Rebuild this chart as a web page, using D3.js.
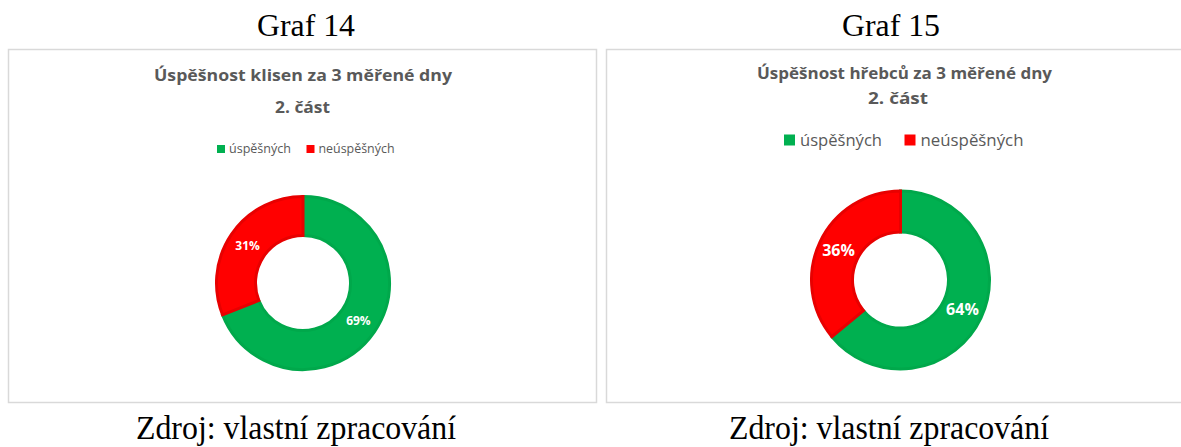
<!DOCTYPE html>
<html>
<head>
<meta charset="utf-8">
<script src="https://cdn.jsdelivr.net/npm/d3@7"></script>
<style>
  html, body { margin: 0; padding: 0; background: #fff; }
  svg { display: block; }
</style>
</head>
<body>
<svg id="chart" width="1181" height="447"></svg>
<script>
// ---- data ----
const graphLabels = ["Graf 14", "Graf 15"];
const chartTitles = ["Úspěšnost klisen za 3 měřené dny", "Úspěšnost hřebců za 3 měřené dny"];
const chartSubtitles = ["2. část", "2. část"];
const categories = ["úspěšných", "neúspěšných"];
const valuesKlisny = [69, 31];
const valuesHrebci = [64, 36];
const sourceNotes = ["Zdroj: vlastní zpracování", "Zdroj: vlastní zpracování"];

// ---- styles / layout ----
const fillColors = ["#00B050", "#FF0000"];
const strokeColors = ["#00A84B", "#E80000"];
const svg = d3.select("#chart");

const panels = [
  { values: valuesKlisny, box: [8, 49, 588, 353], cx: 303, cy: 283, rO: 88, rI: 46,
    graf: { x: 306, y: 36, w: 98 }, titleX: 303, titleY: 81, titleW: 298, titleSize: 15.5,
    subX: 302.5, subY: 113, subW: 55,
    legendY: 149, legendSize: 12, sq: 8, legX: [217, 306.5], legTextW: [62, 76],
    labelSize: 12, note: { x: 296, y: 439, w: 320 } },
  { values: valuesHrebci, box: [606, 49, 590, 353], cx: 900.5, cy: 280, rO: 90.5, rI: 46.5,
    graf: { x: 891, y: 36, w: 98 }, titleX: 904.5, titleY: 79, titleW: 295, titleSize: 15.5,
    subX: 898, subY: 104, subW: 60,
    legendY: 140, legendSize: 16, sq: 11, legX: [784, 904.5], legTextW: [82, 103],
    labelSize: 16, note: { x: 889, y: 439, w: 320 } }
];

const pie = d3.pie().sort(null).value(d => d);

panels.forEach((p, i) => {
  const g = svg.append("g");

  // Graf label
  g.append("text")
    .attr("x", p.graf.x).attr("y", p.graf.y)
    .attr("text-anchor", "middle")
    .attr("font-family", "'Liberation Serif', 'Times New Roman', serif")
    .attr("font-size", 32)
    .attr("textLength", p.graf.w).attr("lengthAdjust", "spacingAndGlyphs")
    .attr("fill", "#000")
    .text(graphLabels[i]);

  // chart box
  g.append("rect")
    .attr("x", p.box[0] + 0.5).attr("y", p.box[1] + 0.5)
    .attr("width", p.box[2]).attr("height", p.box[3])
    .attr("fill", "#fff").attr("stroke", "#d9d9d9").attr("stroke-width", 1.5);

  // title
  g.append("text")
    .attr("x", p.titleX).attr("y", p.titleY)
    .attr("text-anchor", "middle")
    .attr("font-family", "'Open Sans', 'Noto Sans', sans-serif")
    .attr("font-weight", "bold")
    .attr("font-size", p.titleSize)
    .attr("textLength", p.titleW).attr("lengthAdjust", "spacingAndGlyphs")
    .attr("fill", "#595959")
    .text(chartTitles[i]);
  g.append("text")
    .attr("x", p.subX).attr("y", p.subY)
    .attr("text-anchor", "middle")
    .attr("font-family", "'Open Sans', 'Noto Sans', sans-serif")
    .attr("font-weight", "bold")
    .attr("font-size", p.titleSize)
    .attr("textLength", p.subW).attr("lengthAdjust", "spacingAndGlyphs")
    .attr("fill", "#595959")
    .text(chartSubtitles[i]);

  // legend
  categories.forEach((c, k) => {
    g.append("rect")
      .attr("x", p.legX[k]).attr("y", p.legendY - p.sq / 2)
      .attr("width", p.sq).attr("height", p.sq)
      .attr("fill", fillColors[k]);
    g.append("text")
      .attr("x", p.legX[k] + p.sq + (i === 0 ? 4 : 5))
      .attr("y", p.legendY)
      .attr("dy", "0.35em")
      .attr("font-family", "'Open Sans', 'Noto Sans', sans-serif")
      .attr("font-size", p.legendSize)
      .attr("textLength", p.legTextW[k]).attr("lengthAdjust", "spacingAndGlyphs")
      .attr("fill", "#595959")
      .text(c);
  });

  // donut
  const arc = d3.arc().innerRadius(p.rI + 1.5).outerRadius(p.rO - 1.5);
  const labelArc = d3.arc().innerRadius((p.rI + p.rO) / 2).outerRadius((p.rI + p.rO) / 2);
  const arcs = pie(p.values);
  const dg = g.append("g").attr("transform", `translate(${p.cx},${p.cy})`);
  dg.selectAll("path").data(arcs).enter().append("path")
    .attr("d", arc)
    .attr("fill", (d, k) => fillColors[k])
    .attr("stroke", (d, k) => strokeColors[k])
    .attr("stroke-width", 3)
    .attr("stroke-linejoin", "miter");
  dg.selectAll("text").data(arcs).enter().append("text")
    .attr("transform", d => `translate(${labelArc.centroid(d)})`)
    .attr("text-anchor", "middle")
    .attr("dy", "0.35em")
    .attr("font-family", "'Open Sans', 'Noto Sans', sans-serif")
    .attr("font-weight", "bold")
    .attr("font-size", p.labelSize)
    .attr("fill", "#fff")
    .text(d => d.data + "%");

  // source note
  g.append("text")
    .attr("x", p.note.x).attr("y", p.note.y)
    .attr("text-anchor", "middle")
    .attr("font-family", "'Liberation Serif', 'Times New Roman', serif")
    .attr("font-size", 33)
    .attr("textLength", p.note.w).attr("lengthAdjust", "spacingAndGlyphs")
    .attr("fill", "#000")
    .text(sourceNotes[i]);
});
</script>
</body>
</html>
